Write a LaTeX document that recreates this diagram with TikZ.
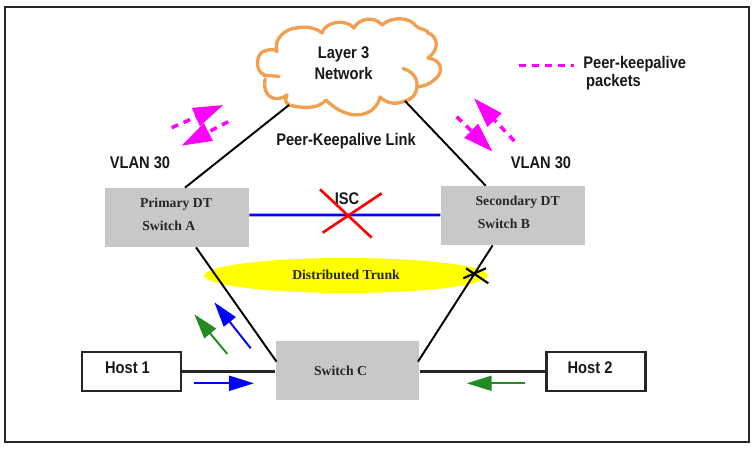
\documentclass[tikz,border=0pt]{standalone}
\usepackage{fontspec}
\setmainfont{Liberation Serif}
\newfontfamily\narrowsans[FakeStretch=0.87]{Liberation Sans}
\usetikzlibrary{arrows.meta, positioning, shapes.geometric}
\definecolor{boxgray}{RGB}{200,200,200}
\definecolor{cloudorange}{RGB}{242,160,80}
\definecolor{flowgreen}{RGB}{34,139,34}
\definecolor{packetpink}{RGB}{255,0,255}
\definecolor{linkblue}{RGB}{0,0,255}
\definecolor{crossred}{RGB}{255,0,0}
\definecolor{trunkyellow}{RGB}{255,255,0}
\begin{document}
\begin{tikzpicture}[x=0.02cm, y=-0.02cm,
  switchbox/.style={rectangle, fill=boxgray, minimum width=2.88cm, minimum height=1.18cm, inner sep=0pt},
  hostbox/.style={rectangle, draw=black!85, line width=1.2pt, fill=white, minimum width=1.98cm, minimum height=0.78cm, inner sep=0pt},
  sanstxt/.style={font=\narrowsans\bfseries\fontsize{9.6}{11}\selectfont, text=black!90, inner sep=0pt, align=left},
  seriftxt/.style={font=\bfseries\fontsize{7.8}{13}\selectfont, text=black!85, inner sep=0pt, align=left},
  link/.style={draw=black, line width=1.1pt},
  keepalive/.style={draw=packetpink, line width=2pt, dash pattern=on 4pt off 3.4pt, -{Triangle[length=0.6cm, width=0.38cm]}},
  hostflow/.style={line width=1.1pt, -{Triangle[length=0.5cm, width=0.3cm]}},
  crossout/.style={line width=1.2pt}]
\useasboundingbox (0,0) rectangle (755,449);
\draw [black!85, line width=1.2pt] (5,7) rectangle (749,442);

% trunk sits under the links
\node (trunk) [ellipse, fill=trunkyellow, minimum width=5.68cm, minimum height=0.7cm, inner sep=0pt] at (346,275.5) {};
\node (trunktxt) [seriftxt] at (346,275) {Distributed Trunk};

\node (primary) [switchbox] at (177,217.5) {};
\node (secondary) [switchbox, right=3.82cm of primary, yshift=0.04cm] {};
\node (switchc) [switchbox] at (347.5,370.5) {};
\node (host1) [hostbox] at (131.5,371.5) {};
\node (host2) [hostbox] at (596,371.5) {};

\node (primarytxt) [seriftxt] at ([xshift=-0.02cm,yshift=0.06cm]primary.center) {Primary DT\\ \,Switch A};
\node (secondarytxt) [seriftxt] at ([xshift=0.1cm,yshift=0.06cm]secondary.center) {Secondary DT\\ \,Switch B};
\node (switchctxt) [seriftxt] at ([xshift=-0.14cm]switchc.center) {Switch C};
\node (host1txt) [sanstxt] at ([xshift=-0.08cm,yshift=0.08cm]host1.center) {Host 1};
\node (host2txt) [sanstxt] at ([xshift=-0.12cm,yshift=0.08cm]host2.center) {Host 2};

% cloud
\draw [cloudorange, line width=1.9pt, line cap=round, line join=round, fill=white]
  (279,76.5) .. controls (268,75) and (260,76) .. (265,75)
  .. controls (254,72) and (256,52) .. (265,51)
  .. controls (270,49) and (275,49) .. (277,51.5)
  .. controls (273,40) and (285,28) .. (297,28)
  .. controls (307,26) and (316,28) .. (322,33)
  .. controls (325,22) and (345,18) .. (354,28)
  .. controls (358,19) and (374,15) .. (382,25)
  .. controls (392,16) and (410,17) .. (416,26)
  .. controls (420,30) and (428,29) .. (428,33)
  .. controls (438,36) and (440,50) .. (428,58)
  .. controls (442,60) and (445,72) .. (434,80)
  .. controls (429,85) and (423,86) .. (417,87)
  .. controls (416,96) and (410,100) .. (405,101)
  .. controls (398,104) and (388,105) .. (380,97)
  .. controls (376,116) and (350,124) .. (326,100)
  .. controls (318,110) and (300,108) .. (289,105)
  .. controls (285,103) and (285,99) .. (287,95)
  .. controls (278,102) and (262,100) .. (265,79)
  ;
\draw [cloudorange, line width=1.9pt, line cap=round] (403,68.5) .. controls (412,71) and (418,78) .. (417,87);
\node (cloudtxt) [sanstxt, align=center, font=\narrowsans\bfseries\fontsize{9.6}{12}\selectfont] at (343.5,63.5) {Layer 3\\Network};
\coordinate (cloudleft) at (289,105);
\coordinate (cloudright) at (405,101);

\draw [link] (cloudleft) -- ([xshift=0.16cm]primary.north);
\draw [link] (cloudright) -- ([xshift=-0.54cm]secondary.north);
\draw [link] ([xshift=0.38cm]primary.south) -- ([xshift=-1.42cm,yshift=-0.42cm]switchc.north);
\draw [link] ([xshift=-0.4cm]secondary.south) -- ([xshift=1.41cm,yshift=-0.42cm]switchc.north);
\draw [link, draw=black!85, line width=1.4pt] (host1.east) -- (host1.east -| switchc.west);
\draw [link, draw=black!85, line width=1.4pt] (host2.west) -- (host2.west -| switchc.east);
\draw [draw=linkblue, line width=1.7pt] ([yshift=0.05cm]primary.east) -- ([yshift=0.01cm]secondary.west);

\node (isctxt) [sanstxt] at (347,199) {ISC};
\draw [crossred, crossout, line width=1.5pt] (320,189.3) -- (371.7,237.7);
\draw [crossred, crossout, line width=1.5pt] (381.7,193.3) -- (322.7,232.7);
\draw [black, crossout] (466,268.3) -- (488.3,283.3);
\draw [black, crossout] (463.3,278.3) -- (486,268.3);

% keepalive packets
\draw [keepalive] (171.7,127.7) -- (223.3,105);
\draw [keepalive] (228.3,121.7) -- (181.7,145.7);
\draw [keepalive] (514.3,141) -- (474,98.3);
\draw [keepalive] (456.7,116.7) -- (492.7,151.7);
\draw [packetpink, line width=2pt, dash pattern=on 4pt off 3.4pt] (519,65.7) -- (574,65.7);

% host traffic
\draw [hostflow, linkblue] (250.7,348.3) -- (214.3,302.3);
\draw [hostflow, flowgreen] (227.3,354) -- (194.3,314.3);
\draw [hostflow, linkblue] (194.3,383.3) -- (254,383.3);
\draw [hostflow, flowgreen] (525,383.3) -- (466.7,383.3);

\node (peerlink) [sanstxt] at (346,141) {Peer-Keepalive Link};
\node (vlanleft) [sanstxt] at (140,163) {VLAN 30};
\node (vlanright) [sanstxt] at (541,163) {VLAN 30};
\node (legendtxt) [sanstxt, anchor=north west] at (583,56) {Peer-keepalive\\[-1pt] \,packets};
\end{tikzpicture}
\end{document}
